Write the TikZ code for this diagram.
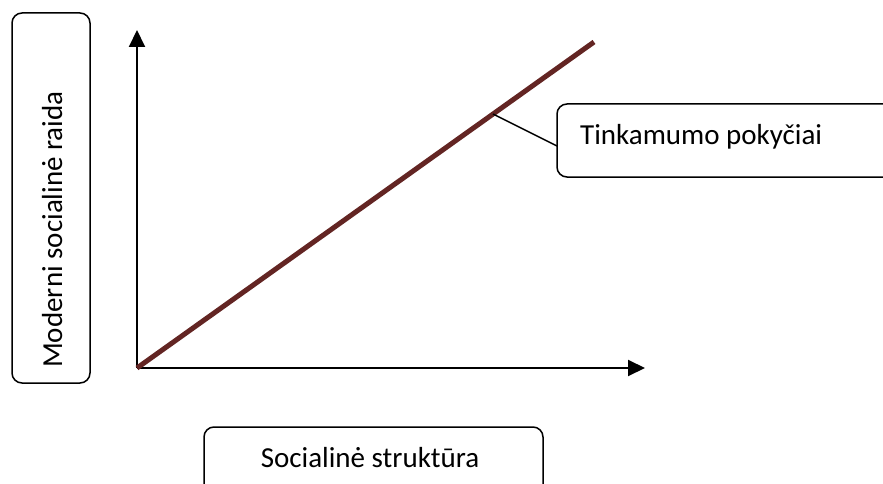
\documentclass[tikz,border=0pt]{standalone}
\usepackage{fontspec}
\setmainfont{Carlito}
\usetikzlibrary{arrows.meta,calc}
\definecolor{linebrown}{RGB}{99,37,35}
\tikzset{
  box/.style={draw=black, line width=1.5pt, rounded corners=10pt},
  lbl/.style={font=\fontsize{29}{35}\selectfont, inner sep=0pt, text=black},
  axis/.style={line width=2pt, -{Triangle[length=17pt,width=16pt]}},
}
\begin{document}
\begin{tikzpicture}[x=1pt,y=-1pt]
\useasboundingbox (0,0) rectangle (883,484);
\clip (0,0) rectangle (883,484);
% left box
\draw[box] (12,13) rectangle (90,383);
\node[lbl, rotate=90, anchor=base west] (ylab) at (62,368) {Moderni socialinė raida};
% bottom box
\draw[box] (204,427) rectangle (543,500);
\node[lbl, anchor=base] (xlab) at (370,467) {Socialinė struktūra};
% callout box
\draw[box] (557,104) rectangle (900,177);
\coordinate (cl) at (557,146);
\node[lbl, anchor=base west] (clab) at (580,145) {Tinkamumo pokyčiai};
% axes
\coordinate (o) at (137,368);
\coordinate (ytip) at (137,30);
\coordinate (xtip) at (645,368);
\draw[axis] (o) -- (ytip);
\draw[axis] (o) -- (xtip);
% diagonal
\coordinate (e) at (594,42);
\draw[linebrown, line width=5pt] (o) -- (e);
\coordinate (d) at ($(o)!0.779!(e)$);
\draw[black, line width=1.5pt] (d) -- (cl);
\end{tikzpicture}
\end{document}
